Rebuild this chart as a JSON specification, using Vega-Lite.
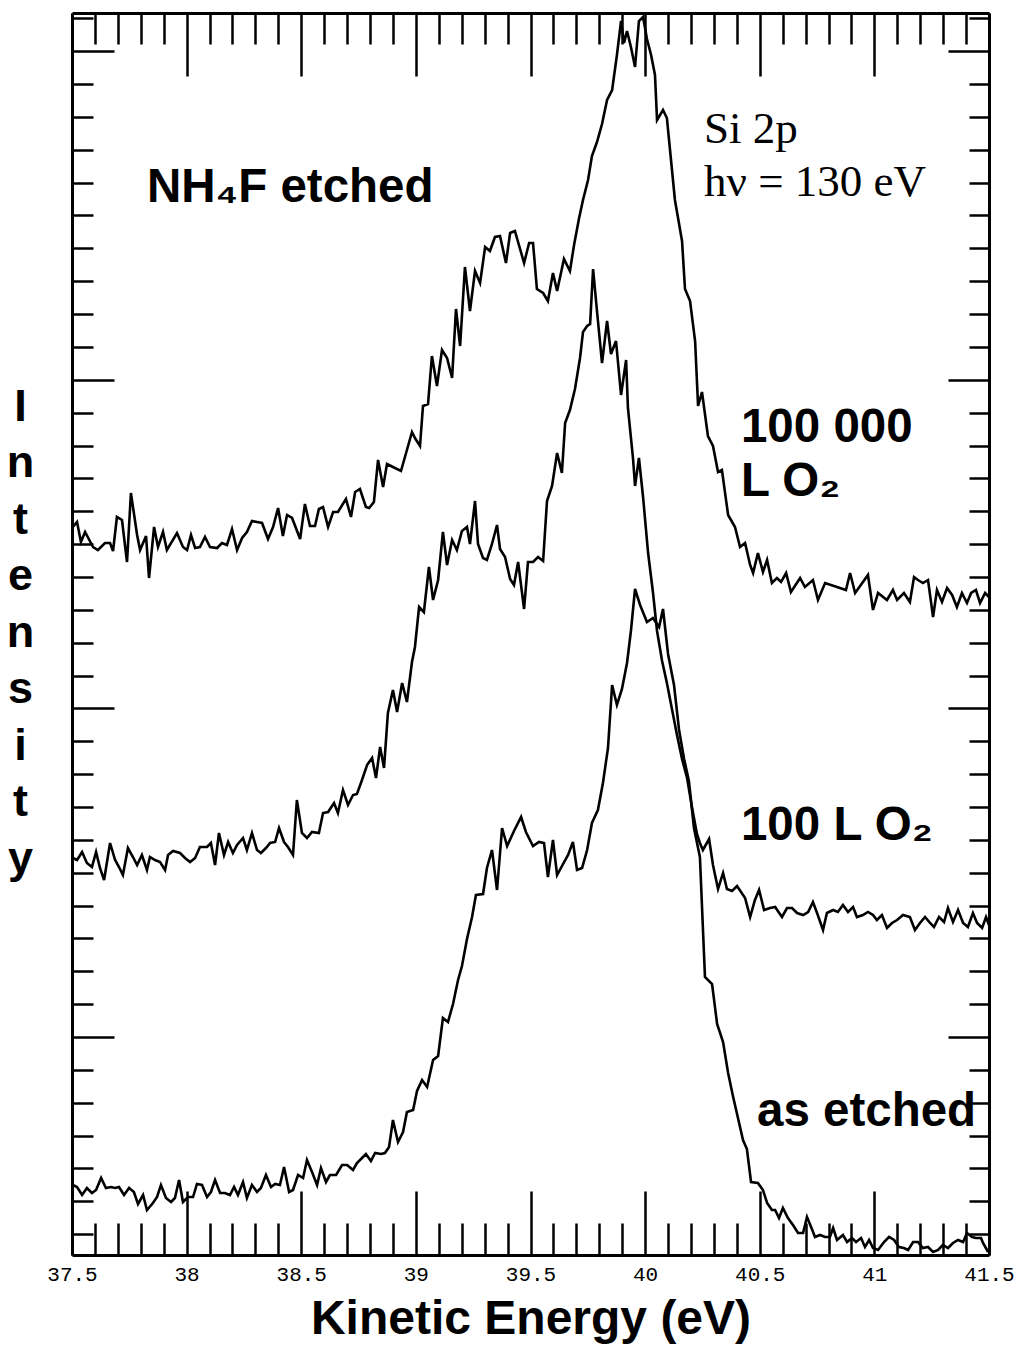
{
  "$schema": "https://vega.github.io/schema/vega-lite/v6.json",
  "width": 917,
  "height": 1242,
  "autosize": {"type": "none"},
  "padding": {"left": 72, "top": 13, "right": 34, "bottom": 94},
  "background": "white",
  "config": {
    "view": {"stroke": null},
    "axis": {"grid": false, "domainColor": "black", "domainWidth": 3, "tickColor": "black", "tickWidth": 2.5, "labelColor": "black", "titleColor": "black"}
  },
  "datasets": {
    "spectra": [
      {"exposure": "100 000 L O2", "energy": 37.5, "intensity": 727},{"exposure": "100 000 L O2", "energy": 37.522, "intensity": 733},{"exposure": "100 000 L O2", "energy": 37.539, "intensity": 713},{"exposure": "100 000 L O2", "energy": 37.557, "intensity": 723},{"exposure": "100 000 L O2", "energy": 37.592, "intensity": 708},{"exposure": "100 000 L O2", "energy": 37.613, "intensity": 705},{"exposure": "100 000 L O2", "energy": 37.644, "intensity": 712},{"exposure": "100 000 L O2", "energy": 37.666, "intensity": 712},{"exposure": "100 000 L O2", "energy": 37.679, "intensity": 704},{"exposure": "100 000 L O2", "energy": 37.696, "intensity": 738},{"exposure": "100 000 L O2", "energy": 37.718, "intensity": 735},{"exposure": "100 000 L O2", "energy": 37.74, "intensity": 693},{"exposure": "100 000 L O2", "energy": 37.757, "intensity": 762},{"exposure": "100 000 L O2", "energy": 37.784, "intensity": 720},{"exposure": "100 000 L O2", "energy": 37.797, "intensity": 705},{"exposure": "100 000 L O2", "energy": 37.823, "intensity": 719},{"exposure": "100 000 L O2", "energy": 37.836, "intensity": 677},{"exposure": "100 000 L O2", "energy": 37.858, "intensity": 728},{"exposure": "100 000 L O2", "energy": 37.875, "intensity": 708},{"exposure": "100 000 L O2", "energy": 37.897, "intensity": 723},{"exposure": "100 000 L O2", "energy": 37.914, "intensity": 705},{"exposure": "100 000 L O2", "energy": 37.958, "intensity": 722},{"exposure": "100 000 L O2", "energy": 37.984, "intensity": 708},{"exposure": "100 000 L O2", "energy": 38.002, "intensity": 705},{"exposure": "100 000 L O2", "energy": 38.019, "intensity": 720},{"exposure": "100 000 L O2", "energy": 38.037, "intensity": 707},{"exposure": "100 000 L O2", "energy": 38.058, "intensity": 708},{"exposure": "100 000 L O2", "energy": 38.08, "intensity": 718},{"exposure": "100 000 L O2", "energy": 38.102, "intensity": 708},{"exposure": "100 000 L O2", "energy": 38.133, "intensity": 707},{"exposure": "100 000 L O2", "energy": 38.154, "intensity": 712},{"exposure": "100 000 L O2", "energy": 38.176, "intensity": 710},{"exposure": "100 000 L O2", "energy": 38.198, "intensity": 726},{"exposure": "100 000 L O2", "energy": 38.22, "intensity": 705},{"exposure": "100 000 L O2", "energy": 38.242, "intensity": 717},{"exposure": "100 000 L O2", "energy": 38.263, "intensity": 723},{"exposure": "100 000 L O2", "energy": 38.285, "intensity": 734},{"exposure": "100 000 L O2", "energy": 38.307, "intensity": 733},{"exposure": "100 000 L O2", "energy": 38.329, "intensity": 732},{"exposure": "100 000 L O2", "energy": 38.355, "intensity": 716},{"exposure": "100 000 L O2", "energy": 38.377, "intensity": 728},{"exposure": "100 000 L O2", "energy": 38.399, "intensity": 747},{"exposure": "100 000 L O2", "energy": 38.42, "intensity": 719},{"exposure": "100 000 L O2", "energy": 38.438, "intensity": 740},{"exposure": "100 000 L O2", "energy": 38.46, "intensity": 737},{"exposure": "100 000 L O2", "energy": 38.495, "intensity": 716},{"exposure": "100 000 L O2", "energy": 38.516, "intensity": 751},{"exposure": "100 000 L O2", "energy": 38.538, "intensity": 729},{"exposure": "100 000 L O2", "energy": 38.56, "intensity": 729},{"exposure": "100 000 L O2", "energy": 38.577, "intensity": 746},{"exposure": "100 000 L O2", "energy": 38.595, "intensity": 748},{"exposure": "100 000 L O2", "energy": 38.617, "intensity": 728},{"exposure": "100 000 L O2", "energy": 38.639, "intensity": 743},{"exposure": "100 000 L O2", "energy": 38.66, "intensity": 743},{"exposure": "100 000 L O2", "energy": 38.695, "intensity": 756},{"exposure": "100 000 L O2", "energy": 38.717, "intensity": 738},{"exposure": "100 000 L O2", "energy": 38.735, "intensity": 763},{"exposure": "100 000 L O2", "energy": 38.756, "intensity": 766},{"exposure": "100 000 L O2", "energy": 38.782, "intensity": 748},{"exposure": "100 000 L O2", "energy": 38.796, "intensity": 747},{"exposure": "100 000 L O2", "energy": 38.817, "intensity": 753},{"exposure": "100 000 L O2", "energy": 38.835, "intensity": 795},{"exposure": "100 000 L O2", "energy": 38.857, "intensity": 768},{"exposure": "100 000 L O2", "energy": 38.874, "intensity": 791},{"exposure": "100 000 L O2", "energy": 38.9, "intensity": 788},{"exposure": "100 000 L O2", "energy": 38.935, "intensity": 784},{"exposure": "100 000 L O2", "energy": 38.961, "intensity": 805},{"exposure": "100 000 L O2", "energy": 38.983, "intensity": 823},{"exposure": "100 000 L O2", "energy": 38.996, "intensity": 817},{"exposure": "100 000 L O2", "energy": 39.018, "intensity": 809},{"exposure": "100 000 L O2", "energy": 39.031, "intensity": 849},{"exposure": "100 000 L O2", "energy": 39.053, "intensity": 851},{"exposure": "100 000 L O2", "energy": 39.07, "intensity": 899},{"exposure": "100 000 L O2", "energy": 39.092, "intensity": 869},{"exposure": "100 000 L O2", "energy": 39.114, "intensity": 905},{"exposure": "100 000 L O2", "energy": 39.136, "intensity": 897},{"exposure": "100 000 L O2", "energy": 39.158, "intensity": 877},{"exposure": "100 000 L O2", "energy": 39.175, "intensity": 946},{"exposure": "100 000 L O2", "energy": 39.193, "intensity": 909},{"exposure": "100 000 L O2", "energy": 39.214, "intensity": 988},{"exposure": "100 000 L O2", "energy": 39.236, "intensity": 944},{"exposure": "100 000 L O2", "energy": 39.258, "intensity": 984},{"exposure": "100 000 L O2", "energy": 39.28, "intensity": 972},{"exposure": "100 000 L O2", "energy": 39.302, "intensity": 1008},{"exposure": "100 000 L O2", "energy": 39.323, "intensity": 1004},{"exposure": "100 000 L O2", "energy": 39.345, "intensity": 1018},{"exposure": "100 000 L O2", "energy": 39.367, "intensity": 1019},{"exposure": "100 000 L O2", "energy": 39.393, "intensity": 992},{"exposure": "100 000 L O2", "energy": 39.411, "intensity": 1022},{"exposure": "100 000 L O2", "energy": 39.432, "intensity": 1024},{"exposure": "100 000 L O2", "energy": 39.472, "intensity": 992},{"exposure": "100 000 L O2", "energy": 39.494, "intensity": 1012},{"exposure": "100 000 L O2", "energy": 39.511, "intensity": 1012},{"exposure": "100 000 L O2", "energy": 39.528, "intensity": 966},{"exposure": "100 000 L O2", "energy": 39.555, "intensity": 962},{"exposure": "100 000 L O2", "energy": 39.576, "intensity": 954},{"exposure": "100 000 L O2", "energy": 39.598, "intensity": 982},{"exposure": "100 000 L O2", "energy": 39.616, "intensity": 964},{"exposure": "100 000 L O2", "energy": 39.646, "intensity": 996},{"exposure": "100 000 L O2", "energy": 39.672, "intensity": 984},{"exposure": "100 000 L O2", "energy": 39.69, "intensity": 1010},{"exposure": "100 000 L O2", "energy": 39.712, "intensity": 1037},{"exposure": "100 000 L O2", "energy": 39.729, "intensity": 1055},{"exposure": "100 000 L O2", "energy": 39.751, "intensity": 1075},{"exposure": "100 000 L O2", "energy": 39.768, "intensity": 1099},{"exposure": "100 000 L O2", "energy": 39.79, "intensity": 1113},{"exposure": "100 000 L O2", "energy": 39.812, "intensity": 1131},{"exposure": "100 000 L O2", "energy": 39.834, "intensity": 1155},{"exposure": "100 000 L O2", "energy": 39.856, "intensity": 1165},{"exposure": "100 000 L O2", "energy": 39.877, "intensity": 1200},{"exposure": "100 000 L O2", "energy": 39.895, "intensity": 1234},{"exposure": "100 000 L O2", "energy": 39.908, "intensity": 1212},{"exposure": "100 000 L O2", "energy": 39.921, "intensity": 1224},{"exposure": "100 000 L O2", "energy": 39.938, "intensity": 1208},{"exposure": "100 000 L O2", "energy": 39.956, "intensity": 1188},{"exposure": "100 000 L O2", "energy": 39.973, "intensity": 1234},{"exposure": "100 000 L O2", "energy": 39.991, "intensity": 1238},{"exposure": "100 000 L O2", "energy": 40.008, "intensity": 1216},{"exposure": "100 000 L O2", "energy": 40.026, "intensity": 1200},{"exposure": "100 000 L O2", "energy": 40.043, "intensity": 1180},{"exposure": "100 000 L O2", "energy": 40.052, "intensity": 1135},{"exposure": "100 000 L O2", "energy": 40.078, "intensity": 1145},{"exposure": "100 000 L O2", "energy": 40.095, "intensity": 1137},{"exposure": "100 000 L O2", "energy": 40.13, "intensity": 1055},{"exposure": "100 000 L O2", "energy": 40.161, "intensity": 1014},{"exposure": "100 000 L O2", "energy": 40.174, "intensity": 966},{"exposure": "100 000 L O2", "energy": 40.196, "intensity": 954},{"exposure": "100 000 L O2", "energy": 40.218, "intensity": 914},{"exposure": "100 000 L O2", "energy": 40.231, "intensity": 849},{"exposure": "100 000 L O2", "energy": 40.248, "intensity": 863},{"exposure": "100 000 L O2", "energy": 40.274, "intensity": 819},{"exposure": "100 000 L O2", "energy": 40.296, "intensity": 809},{"exposure": "100 000 L O2", "energy": 40.318, "intensity": 783},{"exposure": "100 000 L O2", "energy": 40.335, "intensity": 785},{"exposure": "100 000 L O2", "energy": 40.362, "intensity": 740},{"exposure": "100 000 L O2", "energy": 40.392, "intensity": 728},{"exposure": "100 000 L O2", "energy": 40.414, "intensity": 708},{"exposure": "100 000 L O2", "energy": 40.436, "intensity": 712},{"exposure": "100 000 L O2", "energy": 40.458, "intensity": 690},{"exposure": "100 000 L O2", "energy": 40.471, "intensity": 682},{"exposure": "100 000 L O2", "energy": 40.492, "intensity": 702},{"exposure": "100 000 L O2", "energy": 40.514, "intensity": 683},{"exposure": "100 000 L O2", "energy": 40.532, "intensity": 695},{"exposure": "100 000 L O2", "energy": 40.553, "intensity": 672},{"exposure": "100 000 L O2", "energy": 40.575, "intensity": 677},{"exposure": "100 000 L O2", "energy": 40.593, "intensity": 673},{"exposure": "100 000 L O2", "energy": 40.615, "intensity": 682},{"exposure": "100 000 L O2", "energy": 40.636, "intensity": 663},{"exposure": "100 000 L O2", "energy": 40.676, "intensity": 677},{"exposure": "100 000 L O2", "energy": 40.697, "intensity": 668},{"exposure": "100 000 L O2", "energy": 40.732, "intensity": 675},{"exposure": "100 000 L O2", "energy": 40.754, "intensity": 655},{"exposure": "100 000 L O2", "energy": 40.785, "intensity": 672},{"exposure": "100 000 L O2", "energy": 40.837, "intensity": 668},{"exposure": "100 000 L O2", "energy": 40.876, "intensity": 665},{"exposure": "100 000 L O2", "energy": 40.894, "intensity": 682},{"exposure": "100 000 L O2", "energy": 40.916, "intensity": 662},{"exposure": "100 000 L O2", "energy": 40.972, "intensity": 680},{"exposure": "100 000 L O2", "energy": 40.994, "intensity": 645},{"exposure": "100 000 L O2", "energy": 41.016, "intensity": 662},{"exposure": "100 000 L O2", "energy": 41.055, "intensity": 655},{"exposure": "100 000 L O2", "energy": 41.081, "intensity": 665},{"exposure": "100 000 L O2", "energy": 41.099, "intensity": 655},{"exposure": "100 000 L O2", "energy": 41.129, "intensity": 662},{"exposure": "100 000 L O2", "energy": 41.155, "intensity": 653},{"exposure": "100 000 L O2", "energy": 41.173, "intensity": 678},{"exposure": "100 000 L O2", "energy": 41.19, "intensity": 675},{"exposure": "100 000 L O2", "energy": 41.212, "intensity": 672},{"exposure": "100 000 L O2", "energy": 41.234, "intensity": 675},{"exposure": "100 000 L O2", "energy": 41.256, "intensity": 638},{"exposure": "100 000 L O2", "energy": 41.273, "intensity": 665},{"exposure": "100 000 L O2", "energy": 41.295, "intensity": 653},{"exposure": "100 000 L O2", "energy": 41.317, "intensity": 667},{"exposure": "100 000 L O2", "energy": 41.339, "intensity": 660},{"exposure": "100 000 L O2", "energy": 41.36, "intensity": 648},{"exposure": "100 000 L O2", "energy": 41.382, "intensity": 662},{"exposure": "100 000 L O2", "energy": 41.404, "intensity": 652},{"exposure": "100 000 L O2", "energy": 41.422, "intensity": 662},{"exposure": "100 000 L O2", "energy": 41.443, "intensity": 665},{"exposure": "100 000 L O2", "energy": 41.461, "intensity": 652},{"exposure": "100 000 L O2", "energy": 41.483, "intensity": 662},{"exposure": "100 000 L O2", "energy": 41.5, "intensity": 658},

      {"exposure": "100 L O2", "energy": 37.504, "intensity": 397},{"exposure": "100 L O2", "energy": 37.522, "intensity": 395},{"exposure": "100 L O2", "energy": 37.544, "intensity": 403},{"exposure": "100 L O2", "energy": 37.565, "intensity": 392},{"exposure": "100 L O2", "energy": 37.587, "intensity": 388},{"exposure": "100 L O2", "energy": 37.605, "intensity": 403},{"exposure": "100 L O2", "energy": 37.622, "intensity": 387},{"exposure": "100 L O2", "energy": 37.64, "intensity": 375},{"exposure": "100 L O2", "energy": 37.666, "intensity": 412},{"exposure": "100 L O2", "energy": 37.688, "intensity": 395},{"exposure": "100 L O2", "energy": 37.705, "intensity": 388},{"exposure": "100 L O2", "energy": 37.722, "intensity": 380},{"exposure": "100 L O2", "energy": 37.744, "intensity": 407},{"exposure": "100 L O2", "energy": 37.766, "intensity": 398},{"exposure": "100 L O2", "energy": 37.784, "intensity": 390},{"exposure": "100 L O2", "energy": 37.805, "intensity": 400},{"exposure": "100 L O2", "energy": 37.827, "intensity": 385},{"exposure": "100 L O2", "energy": 37.84, "intensity": 398},{"exposure": "100 L O2", "energy": 37.862, "intensity": 395},{"exposure": "100 L O2", "energy": 37.884, "intensity": 393},{"exposure": "100 L O2", "energy": 37.906, "intensity": 385},{"exposure": "100 L O2", "energy": 37.919, "intensity": 400},{"exposure": "100 L O2", "energy": 37.941, "intensity": 404},{"exposure": "100 L O2", "energy": 37.971, "intensity": 402},{"exposure": "100 L O2", "energy": 37.993, "intensity": 397},{"exposure": "100 L O2", "energy": 38.015, "intensity": 393},{"exposure": "100 L O2", "energy": 38.037, "intensity": 397},{"exposure": "100 L O2", "energy": 38.058, "intensity": 408},{"exposure": "100 L O2", "energy": 38.089, "intensity": 408},{"exposure": "100 L O2", "energy": 38.106, "intensity": 412},{"exposure": "100 L O2", "energy": 38.124, "intensity": 390},{"exposure": "100 L O2", "energy": 38.141, "intensity": 422},{"exposure": "100 L O2", "energy": 38.163, "intensity": 400},{"exposure": "100 L O2", "energy": 38.181, "intensity": 413},{"exposure": "100 L O2", "energy": 38.202, "intensity": 402},{"exposure": "100 L O2", "energy": 38.22, "intensity": 410},{"exposure": "100 L O2", "energy": 38.246, "intensity": 417},{"exposure": "100 L O2", "energy": 38.263, "intensity": 405},{"exposure": "100 L O2", "energy": 38.285, "intensity": 422},{"exposure": "100 L O2", "energy": 38.307, "intensity": 405},{"exposure": "100 L O2", "energy": 38.324, "intensity": 402},{"exposure": "100 L O2", "energy": 38.346, "intensity": 407},{"exposure": "100 L O2", "energy": 38.364, "intensity": 412},{"exposure": "100 L O2", "energy": 38.386, "intensity": 413},{"exposure": "100 L O2", "energy": 38.403, "intensity": 427},{"exposure": "100 L O2", "energy": 38.425, "intensity": 413},{"exposure": "100 L O2", "energy": 38.442, "intensity": 408},{"exposure": "100 L O2", "energy": 38.464, "intensity": 400},{"exposure": "100 L O2", "energy": 38.481, "intensity": 455},{"exposure": "100 L O2", "energy": 38.503, "intensity": 422},{"exposure": "100 L O2", "energy": 38.525, "intensity": 417},{"exposure": "100 L O2", "energy": 38.547, "intensity": 423},{"exposure": "100 L O2", "energy": 38.577, "intensity": 422},{"exposure": "100 L O2", "energy": 38.595, "intensity": 442},{"exposure": "100 L O2", "energy": 38.617, "intensity": 443},{"exposure": "100 L O2", "energy": 38.643, "intensity": 452},{"exposure": "100 L O2", "energy": 38.66, "intensity": 442},{"exposure": "100 L O2", "energy": 38.682, "intensity": 465},{"exposure": "100 L O2", "energy": 38.704, "intensity": 450},{"exposure": "100 L O2", "energy": 38.726, "intensity": 460},{"exposure": "100 L O2", "energy": 38.743, "intensity": 461},{"exposure": "100 L O2", "energy": 38.765, "intensity": 475},{"exposure": "100 L O2", "energy": 38.787, "intensity": 490},{"exposure": "100 L O2", "energy": 38.809, "intensity": 497},{"exposure": "100 L O2", "energy": 38.826, "intensity": 477},{"exposure": "100 L O2", "energy": 38.844, "intensity": 508},{"exposure": "100 L O2", "energy": 38.861, "intensity": 487},{"exposure": "100 L O2", "energy": 38.878, "intensity": 542},{"exposure": "100 L O2", "energy": 38.9, "intensity": 565},{"exposure": "100 L O2", "energy": 38.918, "intensity": 543},{"exposure": "100 L O2", "energy": 38.94, "intensity": 572},{"exposure": "100 L O2", "energy": 38.961, "intensity": 553},{"exposure": "100 L O2", "energy": 38.983, "intensity": 593},{"exposure": "100 L O2", "energy": 38.996, "intensity": 608},{"exposure": "100 L O2", "energy": 39.014, "intensity": 648},{"exposure": "100 L O2", "energy": 39.035, "intensity": 643},{"exposure": "100 L O2", "energy": 39.057, "intensity": 688},{"exposure": "100 L O2", "energy": 39.075, "intensity": 655},{"exposure": "100 L O2", "energy": 39.097, "intensity": 675},{"exposure": "100 L O2", "energy": 39.118, "intensity": 723},{"exposure": "100 L O2", "energy": 39.136, "intensity": 690},{"exposure": "100 L O2", "energy": 39.158, "intensity": 715},{"exposure": "100 L O2", "energy": 39.179, "intensity": 705},{"exposure": "100 L O2", "energy": 39.201, "intensity": 724},{"exposure": "100 L O2", "energy": 39.223, "intensity": 728},{"exposure": "100 L O2", "energy": 39.236, "intensity": 711},{"exposure": "100 L O2", "energy": 39.258, "intensity": 754},{"exposure": "100 L O2", "energy": 39.271, "intensity": 711},{"exposure": "100 L O2", "energy": 39.293, "intensity": 697},{"exposure": "100 L O2", "energy": 39.31, "intensity": 695},{"exposure": "100 L O2", "energy": 39.332, "intensity": 711},{"exposure": "100 L O2", "energy": 39.354, "intensity": 730},{"exposure": "100 L O2", "energy": 39.367, "intensity": 706},{"exposure": "100 L O2", "energy": 39.389, "intensity": 698},{"exposure": "100 L O2", "energy": 39.411, "intensity": 676},{"exposure": "100 L O2", "energy": 39.428, "intensity": 670},{"exposure": "100 L O2", "energy": 39.446, "intensity": 693},{"exposure": "100 L O2", "energy": 39.472, "intensity": 646},{"exposure": "100 L O2", "energy": 39.489, "intensity": 693},{"exposure": "100 L O2", "energy": 39.511, "intensity": 693},{"exposure": "100 L O2", "energy": 39.533, "intensity": 698},{"exposure": "100 L O2", "energy": 39.555, "intensity": 694},{"exposure": "100 L O2", "energy": 39.572, "intensity": 754},{"exposure": "100 L O2", "energy": 39.594, "intensity": 769},{"exposure": "100 L O2", "energy": 39.616, "intensity": 802},{"exposure": "100 L O2", "energy": 39.637, "intensity": 782},{"exposure": "100 L O2", "energy": 39.651, "intensity": 832},{"exposure": "100 L O2", "energy": 39.672, "intensity": 845},{"exposure": "100 L O2", "energy": 39.694, "intensity": 866},{"exposure": "100 L O2", "energy": 39.716, "intensity": 897},{"exposure": "100 L O2", "energy": 39.729, "intensity": 923},{"exposure": "100 L O2", "energy": 39.747, "intensity": 929},{"exposure": "100 L O2", "energy": 39.76, "intensity": 931},{"exposure": "100 L O2", "energy": 39.773, "intensity": 986},{"exposure": "100 L O2", "energy": 39.79, "intensity": 944},{"exposure": "100 L O2", "energy": 39.812, "intensity": 892},{"exposure": "100 L O2", "energy": 39.834, "intensity": 934},{"exposure": "100 L O2", "energy": 39.851, "intensity": 901},{"exposure": "100 L O2", "energy": 39.873, "intensity": 914},{"exposure": "100 L O2", "energy": 39.895, "intensity": 860},{"exposure": "100 L O2", "energy": 39.917, "intensity": 895},{"exposure": "100 L O2", "energy": 39.925, "intensity": 847},{"exposure": "100 L O2", "energy": 39.947, "intensity": 797},{"exposure": "100 L O2", "energy": 39.956, "intensity": 769},{"exposure": "100 L O2", "energy": 39.973, "intensity": 797},{"exposure": "100 L O2", "energy": 39.991, "intensity": 758},{"exposure": "100 L O2", "energy": 40.013, "intensity": 702},{"exposure": "100 L O2", "energy": 40.034, "intensity": 663},{"exposure": "100 L O2", "energy": 40.052, "intensity": 624},{"exposure": "100 L O2", "energy": 40.074, "intensity": 594},{"exposure": "100 L O2", "energy": 40.095, "intensity": 572},{"exposure": "100 L O2", "energy": 40.117, "intensity": 546},{"exposure": "100 L O2", "energy": 40.139, "intensity": 520},{"exposure": "100 L O2", "energy": 40.161, "intensity": 496},{"exposure": "100 L O2", "energy": 40.183, "intensity": 477},{"exposure": "100 L O2", "energy": 40.205, "intensity": 447},{"exposure": "100 L O2", "energy": 40.226, "intensity": 421},{"exposure": "100 L O2", "energy": 40.239, "intensity": 412},{"exposure": "100 L O2", "energy": 40.252, "intensity": 405},{"exposure": "100 L O2", "energy": 40.279, "intensity": 416},{"exposure": "100 L O2", "energy": 40.296, "intensity": 390},{"exposure": "100 L O2", "energy": 40.318, "intensity": 366},{"exposure": "100 L O2", "energy": 40.34, "intensity": 382},{"exposure": "100 L O2", "energy": 40.357, "intensity": 366},{"exposure": "100 L O2", "energy": 40.379, "intensity": 364},{"exposure": "100 L O2", "energy": 40.401, "intensity": 369},{"exposure": "100 L O2", "energy": 40.436, "intensity": 357},{"exposure": "100 L O2", "energy": 40.458, "intensity": 338},{"exposure": "100 L O2", "energy": 40.479, "intensity": 355},{"exposure": "100 L O2", "energy": 40.497, "intensity": 365},{"exposure": "100 L O2", "energy": 40.519, "intensity": 345},{"exposure": "100 L O2", "energy": 40.545, "intensity": 347},{"exposure": "100 L O2", "energy": 40.567, "intensity": 348},{"exposure": "100 L O2", "energy": 40.597, "intensity": 338},{"exposure": "100 L O2", "energy": 40.619, "intensity": 347},{"exposure": "100 L O2", "energy": 40.641, "intensity": 347},{"exposure": "100 L O2", "energy": 40.663, "intensity": 342},{"exposure": "100 L O2", "energy": 40.689, "intensity": 340},{"exposure": "100 L O2", "energy": 40.711, "intensity": 343},{"exposure": "100 L O2", "energy": 40.732, "intensity": 353},{"exposure": "100 L O2", "energy": 40.75, "intensity": 342},{"exposure": "100 L O2", "energy": 40.776, "intensity": 325},{"exposure": "100 L O2", "energy": 40.793, "intensity": 342},{"exposure": "100 L O2", "energy": 40.82, "intensity": 345},{"exposure": "100 L O2", "energy": 40.841, "intensity": 343},{"exposure": "100 L O2", "energy": 40.863, "intensity": 350},{"exposure": "100 L O2", "energy": 40.885, "intensity": 343},{"exposure": "100 L O2", "energy": 40.907, "intensity": 348},{"exposure": "100 L O2", "energy": 40.924, "intensity": 338},{"exposure": "100 L O2", "energy": 40.95, "intensity": 340},{"exposure": "100 L O2", "energy": 40.972, "intensity": 343},{"exposure": "100 L O2", "energy": 40.994, "intensity": 340},{"exposure": "100 L O2", "energy": 41.011, "intensity": 335},{"exposure": "100 L O2", "energy": 41.033, "intensity": 340},{"exposure": "100 L O2", "energy": 41.055, "intensity": 327},{"exposure": "100 L O2", "energy": 41.077, "intensity": 332},{"exposure": "100 L O2", "energy": 41.099, "intensity": 335},{"exposure": "100 L O2", "energy": 41.125, "intensity": 340},{"exposure": "100 L O2", "energy": 41.155, "intensity": 338},{"exposure": "100 L O2", "energy": 41.177, "intensity": 325},{"exposure": "100 L O2", "energy": 41.199, "intensity": 332},{"exposure": "100 L O2", "energy": 41.221, "intensity": 338},{"exposure": "100 L O2", "energy": 41.243, "intensity": 332},{"exposure": "100 L O2", "energy": 41.26, "intensity": 328},{"exposure": "100 L O2", "energy": 41.282, "intensity": 338},{"exposure": "100 L O2", "energy": 41.304, "intensity": 333},{"exposure": "100 L O2", "energy": 41.321, "intensity": 347},{"exposure": "100 L O2", "energy": 41.343, "intensity": 333},{"exposure": "100 L O2", "energy": 41.365, "intensity": 345},{"exposure": "100 L O2", "energy": 41.387, "intensity": 332},{"exposure": "100 L O2", "energy": 41.408, "intensity": 328},{"exposure": "100 L O2", "energy": 41.43, "intensity": 342},{"exposure": "100 L O2", "energy": 41.448, "intensity": 332},{"exposure": "100 L O2", "energy": 41.47, "intensity": 327},{"exposure": "100 L O2", "energy": 41.487, "intensity": 338},{"exposure": "100 L O2", "energy": 41.5, "intensity": 330},

      {"exposure": "as etched", "energy": 37.504, "intensity": 70},{"exposure": "as etched", "energy": 37.522, "intensity": 68},{"exposure": "as etched", "energy": 37.544, "intensity": 60},{"exposure": "as etched", "energy": 37.565, "intensity": 67},{"exposure": "as etched", "energy": 37.587, "intensity": 62},{"exposure": "as etched", "energy": 37.605, "intensity": 65},{"exposure": "as etched", "energy": 37.627, "intensity": 77},{"exposure": "as etched", "energy": 37.648, "intensity": 67},{"exposure": "as etched", "energy": 37.67, "intensity": 68},{"exposure": "as etched", "energy": 37.688, "intensity": 67},{"exposure": "as etched", "energy": 37.705, "intensity": 68},{"exposure": "as etched", "energy": 37.727, "intensity": 60},{"exposure": "as etched", "energy": 37.749, "intensity": 67},{"exposure": "as etched", "energy": 37.77, "intensity": 63},{"exposure": "as etched", "energy": 37.788, "intensity": 51},{"exposure": "as etched", "energy": 37.81, "intensity": 60},{"exposure": "as etched", "energy": 37.827, "intensity": 45},{"exposure": "as etched", "energy": 37.853, "intensity": 52},{"exposure": "as etched", "energy": 37.871, "intensity": 58},{"exposure": "as etched", "energy": 37.888, "intensity": 70},{"exposure": "as etched", "energy": 37.91, "intensity": 57},{"exposure": "as etched", "energy": 37.932, "intensity": 53},{"exposure": "as etched", "energy": 37.949, "intensity": 57},{"exposure": "as etched", "energy": 37.967, "intensity": 75},{"exposure": "as etched", "energy": 37.984, "intensity": 53},{"exposure": "as etched", "energy": 38.006, "intensity": 58},{"exposure": "as etched", "energy": 38.028, "intensity": 58},{"exposure": "as etched", "energy": 38.045, "intensity": 71},{"exposure": "as etched", "energy": 38.067, "intensity": 70},{"exposure": "as etched", "energy": 38.089, "intensity": 58},{"exposure": "as etched", "energy": 38.106, "intensity": 63},{"exposure": "as etched", "energy": 38.124, "intensity": 75},{"exposure": "as etched", "energy": 38.146, "intensity": 62},{"exposure": "as etched", "energy": 38.167, "intensity": 62},{"exposure": "as etched", "energy": 38.189, "intensity": 60},{"exposure": "as etched", "energy": 38.207, "intensity": 68},{"exposure": "as etched", "energy": 38.224, "intensity": 60},{"exposure": "as etched", "energy": 38.246, "intensity": 73},{"exposure": "as etched", "energy": 38.263, "intensity": 57},{"exposure": "as etched", "energy": 38.285, "intensity": 70},{"exposure": "as etched", "energy": 38.307, "intensity": 63},{"exposure": "as etched", "energy": 38.324, "intensity": 67},{"exposure": "as etched", "energy": 38.346, "intensity": 80},{"exposure": "as etched", "energy": 38.368, "intensity": 68},{"exposure": "as etched", "energy": 38.386, "intensity": 71},{"exposure": "as etched", "energy": 38.407, "intensity": 70},{"exposure": "as etched", "energy": 38.425, "intensity": 88},{"exposure": "as etched", "energy": 38.447, "intensity": 63},{"exposure": "as etched", "energy": 38.464, "intensity": 65},{"exposure": "as etched", "energy": 38.486, "intensity": 80},{"exposure": "as etched", "energy": 38.508, "intensity": 77},{"exposure": "as etched", "energy": 38.525, "intensity": 95},{"exposure": "as etched", "energy": 38.547, "intensity": 83},{"exposure": "as etched", "energy": 38.569, "intensity": 70},{"exposure": "as etched", "energy": 38.586, "intensity": 87},{"exposure": "as etched", "energy": 38.608, "intensity": 73},{"exposure": "as etched", "energy": 38.625, "intensity": 80},{"exposure": "as etched", "energy": 38.652, "intensity": 80},{"exposure": "as etched", "energy": 38.678, "intensity": 90},{"exposure": "as etched", "energy": 38.7, "intensity": 90},{"exposure": "as etched", "energy": 38.726, "intensity": 85},{"exposure": "as etched", "energy": 38.743, "intensity": 92},{"exposure": "as etched", "energy": 38.765, "intensity": 97},{"exposure": "as etched", "energy": 38.782, "intensity": 101},{"exposure": "as etched", "energy": 38.804, "intensity": 94},{"exposure": "as etched", "energy": 38.822, "intensity": 102},{"exposure": "as etched", "energy": 38.848, "intensity": 101},{"exposure": "as etched", "energy": 38.865, "intensity": 102},{"exposure": "as etched", "energy": 38.883, "intensity": 108},{"exposure": "as etched", "energy": 38.9, "intensity": 135},{"exposure": "as etched", "energy": 38.922, "intensity": 113},{"exposure": "as etched", "energy": 38.944, "intensity": 123},{"exposure": "as etched", "energy": 38.961, "intensity": 143},{"exposure": "as etched", "energy": 38.988, "intensity": 145},{"exposure": "as etched", "energy": 39.005, "intensity": 164},{"exposure": "as etched", "energy": 39.027, "intensity": 175},{"exposure": "as etched", "energy": 39.049, "intensity": 168},{"exposure": "as etched", "energy": 39.075, "intensity": 195},{"exposure": "as etched", "energy": 39.097, "intensity": 199},{"exposure": "as etched", "energy": 39.118, "intensity": 237},{"exposure": "as etched", "energy": 39.14, "intensity": 233},{"exposure": "as etched", "energy": 39.162, "intensity": 251},{"exposure": "as etched", "energy": 39.184, "intensity": 275},{"exposure": "as etched", "energy": 39.201, "intensity": 289},{"exposure": "as etched", "energy": 39.223, "intensity": 316},{"exposure": "as etched", "energy": 39.245, "intensity": 338},{"exposure": "as etched", "energy": 39.262, "intensity": 360},{"exposure": "as etched", "energy": 39.293, "intensity": 361},{"exposure": "as etched", "energy": 39.31, "intensity": 387},{"exposure": "as etched", "energy": 39.332, "intensity": 405},{"exposure": "as etched", "energy": 39.354, "intensity": 365},{"exposure": "as etched", "energy": 39.376, "intensity": 427},{"exposure": "as etched", "energy": 39.398, "intensity": 409},{"exposure": "as etched", "energy": 39.428, "intensity": 424},{"exposure": "as etched", "energy": 39.459, "intensity": 438},{"exposure": "as etched", "energy": 39.48, "intensity": 423},{"exposure": "as etched", "energy": 39.511, "intensity": 409},{"exposure": "as etched", "energy": 39.537, "intensity": 413},{"exposure": "as etched", "energy": 39.559, "intensity": 412},{"exposure": "as etched", "energy": 39.576, "intensity": 378},{"exposure": "as etched", "energy": 39.598, "intensity": 415},{"exposure": "as etched", "energy": 39.616, "intensity": 380},{"exposure": "as etched", "energy": 39.642, "intensity": 391},{"exposure": "as etched", "energy": 39.664, "intensity": 400},{"exposure": "as etched", "energy": 39.685, "intensity": 413},{"exposure": "as etched", "energy": 39.703, "intensity": 385},{"exposure": "as etched", "energy": 39.725, "intensity": 387},{"exposure": "as etched", "energy": 39.747, "intensity": 405},{"exposure": "as etched", "energy": 39.768, "intensity": 432},{"exposure": "as etched", "energy": 39.794, "intensity": 445},{"exposure": "as etched", "energy": 39.816, "intensity": 472},{"exposure": "as etched", "energy": 39.838, "intensity": 507},{"exposure": "as etched", "energy": 39.856, "intensity": 570},{"exposure": "as etched", "energy": 39.877, "intensity": 550},{"exposure": "as etched", "energy": 39.899, "intensity": 566},{"exposure": "as etched", "energy": 39.921, "intensity": 592},{"exposure": "as etched", "energy": 39.938, "intensity": 624},{"exposure": "as etched", "energy": 39.956, "intensity": 666},{"exposure": "as etched", "energy": 39.978, "intensity": 650},{"exposure": "as etched", "energy": 40.008, "intensity": 633},{"exposure": "as etched", "energy": 40.034, "intensity": 637},{"exposure": "as etched", "energy": 40.061, "intensity": 628},{"exposure": "as etched", "energy": 40.078, "intensity": 646},{"exposure": "as etched", "energy": 40.1, "intensity": 601},{"exposure": "as etched", "energy": 40.126, "intensity": 570},{"exposure": "as etched", "energy": 40.148, "intensity": 525},{"exposure": "as etched", "energy": 40.17, "intensity": 496},{"exposure": "as etched", "energy": 40.191, "intensity": 474},{"exposure": "as etched", "energy": 40.213, "intensity": 427},{"exposure": "as etched", "energy": 40.239, "intensity": 398},{"exposure": "as etched", "energy": 40.261, "intensity": 278},{"exposure": "as etched", "energy": 40.292, "intensity": 271},{"exposure": "as etched", "energy": 40.314, "intensity": 231},{"exposure": "as etched", "energy": 40.34, "intensity": 213},{"exposure": "as etched", "energy": 40.362, "intensity": 182},{"exposure": "as etched", "energy": 40.383, "intensity": 159},{"exposure": "as etched", "energy": 40.405, "intensity": 137},{"exposure": "as etched", "energy": 40.427, "intensity": 115},{"exposure": "as etched", "energy": 40.444, "intensity": 106},{"exposure": "as etched", "energy": 40.462, "intensity": 73},{"exposure": "as etched", "energy": 40.492, "intensity": 72},{"exposure": "as etched", "energy": 40.514, "intensity": 65},{"exposure": "as etched", "energy": 40.532, "intensity": 52},{"exposure": "as etched", "energy": 40.553, "intensity": 45},{"exposure": "as etched", "energy": 40.567, "intensity": 45},{"exposure": "as etched", "energy": 40.584, "intensity": 37},{"exposure": "as etched", "energy": 40.601, "intensity": 47},{"exposure": "as etched", "energy": 40.623, "intensity": 37},{"exposure": "as etched", "energy": 40.645, "intensity": 30},{"exposure": "as etched", "energy": 40.667, "intensity": 22},{"exposure": "as etched", "energy": 40.689, "intensity": 22},{"exposure": "as etched", "energy": 40.706, "intensity": 38},{"exposure": "as etched", "energy": 40.724, "intensity": 28},{"exposure": "as etched", "energy": 40.741, "intensity": 18},{"exposure": "as etched", "energy": 40.763, "intensity": 20},{"exposure": "as etched", "energy": 40.785, "intensity": 18},{"exposure": "as etched", "energy": 40.806, "intensity": 18},{"exposure": "as etched", "energy": 40.82, "intensity": 27},{"exposure": "as etched", "energy": 40.837, "intensity": 15},{"exposure": "as etched", "energy": 40.863, "intensity": 20},{"exposure": "as etched", "energy": 40.881, "intensity": 13},{"exposure": "as etched", "energy": 40.902, "intensity": 17},{"exposure": "as etched", "energy": 40.92, "intensity": 13},{"exposure": "as etched", "energy": 40.942, "intensity": 17},{"exposure": "as etched", "energy": 40.959, "intensity": 8},{"exposure": "as etched", "energy": 40.977, "intensity": 15},{"exposure": "as etched", "energy": 40.994, "intensity": 7},{"exposure": "as etched", "energy": 41.016, "intensity": 5},{"exposure": "as etched", "energy": 41.042, "intensity": 13},{"exposure": "as etched", "energy": 41.064, "intensity": 18},{"exposure": "as etched", "energy": 41.086, "intensity": 15},{"exposure": "as etched", "energy": 41.107, "intensity": 8},{"exposure": "as etched", "energy": 41.129, "intensity": 7},{"exposure": "as etched", "energy": 41.147, "intensity": 5},{"exposure": "as etched", "energy": 41.169, "intensity": 13},{"exposure": "as etched", "energy": 41.19, "intensity": 13},{"exposure": "as etched", "energy": 41.212, "intensity": 7},{"exposure": "as etched", "energy": 41.234, "intensity": 8},{"exposure": "as etched", "energy": 41.256, "intensity": 3},{"exposure": "as etched", "energy": 41.278, "intensity": 5},{"exposure": "as etched", "energy": 41.299, "intensity": 10},{"exposure": "as etched", "energy": 41.321, "intensity": 7},{"exposure": "as etched", "energy": 41.343, "intensity": 12},{"exposure": "as etched", "energy": 41.365, "intensity": 15},{"exposure": "as etched", "energy": 41.387, "intensity": 13},{"exposure": "as etched", "energy": 41.404, "intensity": 22},{"exposure": "as etched", "energy": 41.426, "intensity": 18},{"exposure": "as etched", "energy": 41.443, "intensity": 17},{"exposure": "as etched", "energy": 41.465, "intensity": 17},{"exposure": "as etched", "energy": 41.474, "intensity": 12},{"exposure": "as etched", "energy": 41.496, "intensity": 3}
    ],
    "labels": [
      {"label": "NH₄F etched", "style": "sans", "energy": 37.827, "intensity": 1053},
      {"label": "100 000", "style": "sans", "energy": 40.418, "intensity": 813},
      {"label": "L O₂", "style": "sans", "energy": 40.418, "intensity": 759},
      {"label": "100 L O₂", "style": "sans", "energy": 40.418, "intensity": 415},
      {"label": "as etched", "style": "sans", "energy": 40.488, "intensity": 129},
      {"label": "Si 2p", "style": "serif", "energy": 40.257, "intensity": 1112},
      {"label": "hν = 130 eV", "style": "serif", "energy": 40.257, "intensity": 1059}
    ]
  },
  "resolve": {"axis": {"x": "independent", "y": "independent"}},
  "layer": [
    {
      "data": {"name": "spectra"},
      "mark": {"type": "line", "color": "black", "strokeWidth": 2.6},
      "encoding": {
        "x": {
          "field": "energy", "type": "quantitative",
          "scale": {"domain": [37.5, 41.5], "nice": false, "zero": false},
          "axis": {
            "orient": "bottom",
            "values": [37.5,37.6,37.7,37.8,37.9,38,38.1,38.2,38.3,38.4,38.5,38.6,38.7,38.8,38.9,39,39.1,39.2,39.3,39.4,39.5,39.6,39.7,39.8,39.9,40,40.1,40.2,40.3,40.4,40.5,40.6,40.7,40.8,40.9,41,41.1,41.2,41.3,41.4,41.5],
            "tickSize": {"condition": {"test": "round(datum.value*10) % 5 == 0", "value": -64}, "value": -32},
            "labelExpr": "round(datum.value*10) % 5 == 0 ? format(datum.value, '~g') : ''",
            "labelFont": "Liberation Mono", "labelFontSize": 21, "labelPadding": 72,
            "labelOverlap": false, "labelFlush": false, "labelBound": false,
            "title": "Kinetic Energy (eV)",
            "titleFont": "Liberation Sans", "titleFontWeight": "bold", "titleFontSize": 48,
            "titleBaseline": "alphabetic", "titleY": 78
          }
        },
        "y": {
          "field": "intensity", "type": "quantitative",
          "scale": {"domain": [0, 1242], "nice": false, "zero": false},
          "axis": {
            "orient": "left",
            "values": [20.84,53.7,86.56,119.42,152.28,185.14,218,250.86,283.72,316.58,349.44,382.3,415.16,448.02,480.88,513.74,546.6,579.46,612.32,645.18,678.04,710.9,743.76,776.62,809.48,842.34,875.2,908.06,940.92,973.78,1006.64,1039.5,1072.36,1105.22,1138.08,1170.94,1203.8,1236.66],
            "tickSize": {"condition": {"test": "abs((datum.value - 218) / 328.6 - round((datum.value - 218) / 328.6)) < 0.01", "value": -42}, "value": -21},
            "labels": false,
            "title": ["I","n","t","e","n","s","i","t","y"],
            "titleAngle": 0, "titleFont": "Liberation Sans", "titleFontWeight": "bold", "titleFontSize": 45,
            "titleLineHeight": 56.5, "titleAlign": "center", "titleBaseline": "alphabetic",
            "titleX": -52, "titleY": 407
          }
        },
        "detail": {"field": "exposure"}
      }
    },
    {
      "data": {"name": "labels"},
      "transform": [{"filter": "datum.style == 'sans'"}],
      "mark": {"type": "text", "font": "Liberation Sans", "fontWeight": "bold", "fontSize": 47.5, "align": "left", "baseline": "alphabetic", "color": "black"},
      "encoding": {
        "x": {
          "field": "energy", "type": "quantitative",
          "scale": {"domain": [37.5, 41.5], "nice": false, "zero": false},
          "axis": {
            "orient": "top",
            "values": [37.5,37.6,37.7,37.8,37.9,38,38.1,38.2,38.3,38.4,38.5,38.6,38.7,38.8,38.9,39,39.1,39.2,39.3,39.4,39.5,39.6,39.7,39.8,39.9,40,40.1,40.2,40.3,40.4,40.5,40.6,40.7,40.8,40.9,41,41.1,41.2,41.3,41.4,41.5],
            "tickSize": {"condition": {"test": "round(datum.value*10) % 5 == 0", "value": -63}, "value": -31},
            "labels": false, "title": null
          }
        },
        "y": {
          "field": "intensity", "type": "quantitative",
          "scale": {"domain": [0, 1242], "nice": false, "zero": false},
          "axis": {
            "orient": "right",
            "values": [20.84,53.7,86.56,119.42,152.28,185.14,218,250.86,283.72,316.58,349.44,382.3,415.16,448.02,480.88,513.74,546.6,579.46,612.32,645.18,678.04,710.9,743.76,776.62,809.48,842.34,875.2,908.06,940.92,973.78,1006.64,1039.5,1072.36,1105.22,1138.08,1170.94,1203.8,1236.66],
            "tickSize": {"condition": {"test": "abs((datum.value - 218) / 328.6 - round((datum.value - 218) / 328.6)) < 0.01", "value": -41}, "value": -20},
            "labels": false, "title": null
          }
        },
        "text": {"field": "label"}
      }
    },
    {
      "data": {"name": "labels"},
      "transform": [{"filter": "datum.style == 'serif'"}],
      "mark": {"type": "text", "font": "Liberation Serif", "fontSize": 45, "align": "left", "baseline": "alphabetic", "color": "black"},
      "encoding": {
        "x": {"field": "energy", "type": "quantitative", "scale": {"domain": [37.5, 41.5], "nice": false, "zero": false}, "axis": null},
        "y": {"field": "intensity", "type": "quantitative", "scale": {"domain": [0, 1242], "nice": false, "zero": false}, "axis": null},
        "text": {"field": "label"}
      }
    }
  ]
}
